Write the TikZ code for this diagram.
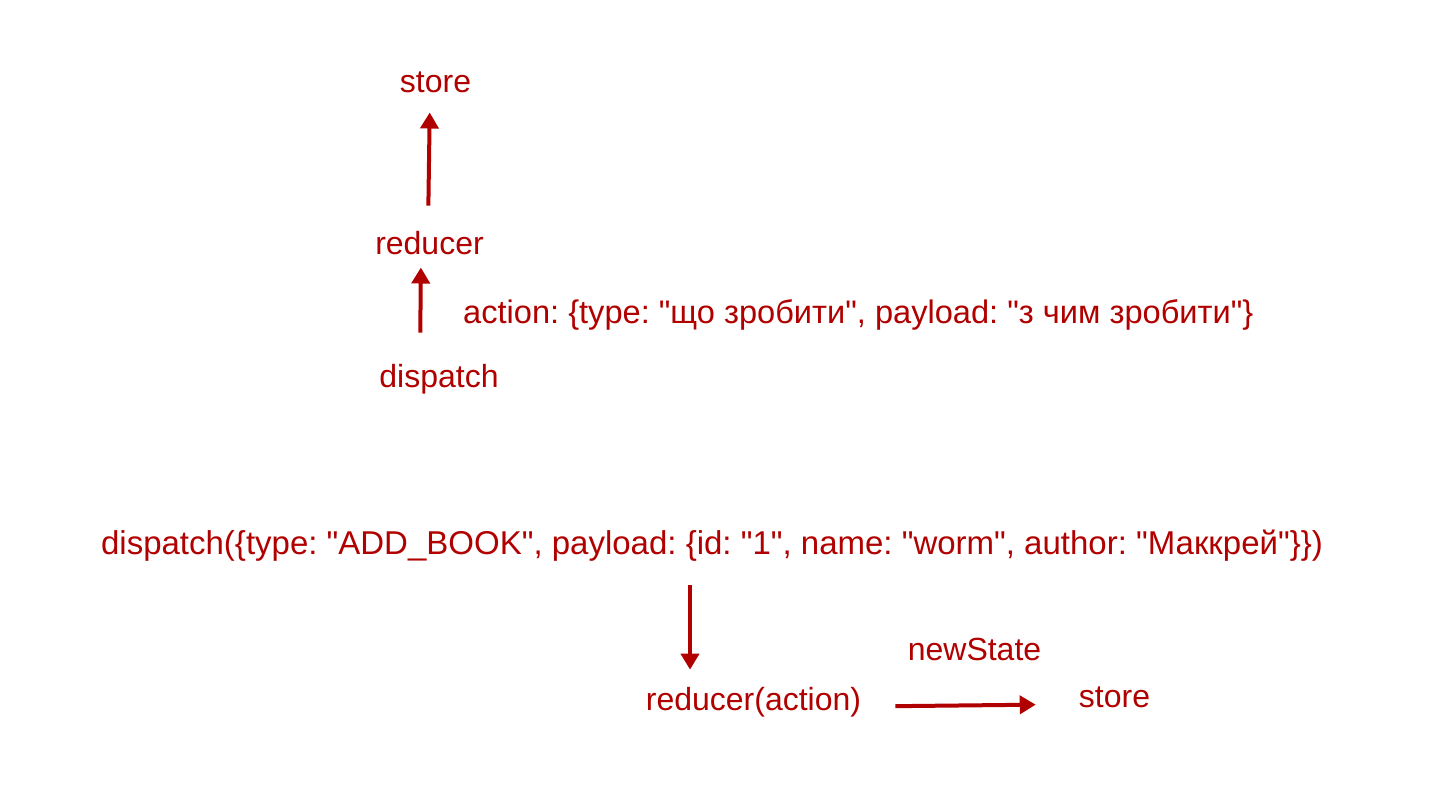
\documentclass[tikz,border=0pt]{standalone}
\usepackage{fontspec}
\setmainfont{Liberation Sans}
\usetikzlibrary{arrows.meta}
\usetikzlibrary{positioning}
\definecolor{reduxred}{RGB}{176,0,0}
\newcommand{\qt}{\textquotedbl}
\frenchspacing

\begin{document}
\begin{tikzpicture}[x=1pt,y=1pt,
	txt/.style={inner sep=0pt,anchor=base,text=reduxred,font=\fontsize{32}{38}\selectfont},
	long txt/.style={txt,font=\fontsize{33}{38}\selectfont},
	flow/.style={draw=reduxred,line width=4pt,-{Triangle[width=18pt,length=16pt]}}]
	
	\useasboundingbox (0,0) rectangle (1431,-793);
	
	% upper scheme
	\node[txt] (store) at (435.5,-92) {store};
	\node[txt] (reducer) at (429.5,-254) {reducer};
	\node[txt] (dispatch) at (439,-387) {dispatch};
	\node[txt,font=\fontsize{32.6}{38}\selectfont,anchor=base west] (action) at (463,-323)
	{action: \{type: \qt що зробити\qt, payload: \qt з чим зробити\qt\}};
	
	\draw[flow,shorten <=25pt,shorten >=20pt]
	([xshift=-1.5pt]reducer.north) -- ([xshift=-5.5pt]store.south);
	\draw[flow,shorten <=31pt,shorten >=13pt]
	([xshift=-19pt]dispatch.north) -- ([xshift=-8.5pt]reducer.south);
	
	% lower scheme
	\node[long txt] (dcall) at (712,-554)
	{dispatch(\{type: \qt ADD\_BOOK\qt, payload: \{id: \qt 1\qt, name: \qt worm\qt, author: \qt Маккрей\qt\}\})};
	\node[txt] (redact) at (753.5,-710) {reducer(action)};
	\node[txt] (store2) at (1114.5,-707) {store};
	
	\draw[flow,shorten <=24pt,shorten >=17pt]
	([xshift=-22pt]dcall.south) -- ([xshift=-63.5pt]redact.north);
	\draw[flow,shorten <=34pt,shorten >=43pt]
	([yshift=-4.8pt]redact.east) -- node[txt,anchor=south,above=43pt,xshift=4.5pt] {newState}
	([yshift=-7.4pt]store2.west);
\end{tikzpicture}
\end{document}
